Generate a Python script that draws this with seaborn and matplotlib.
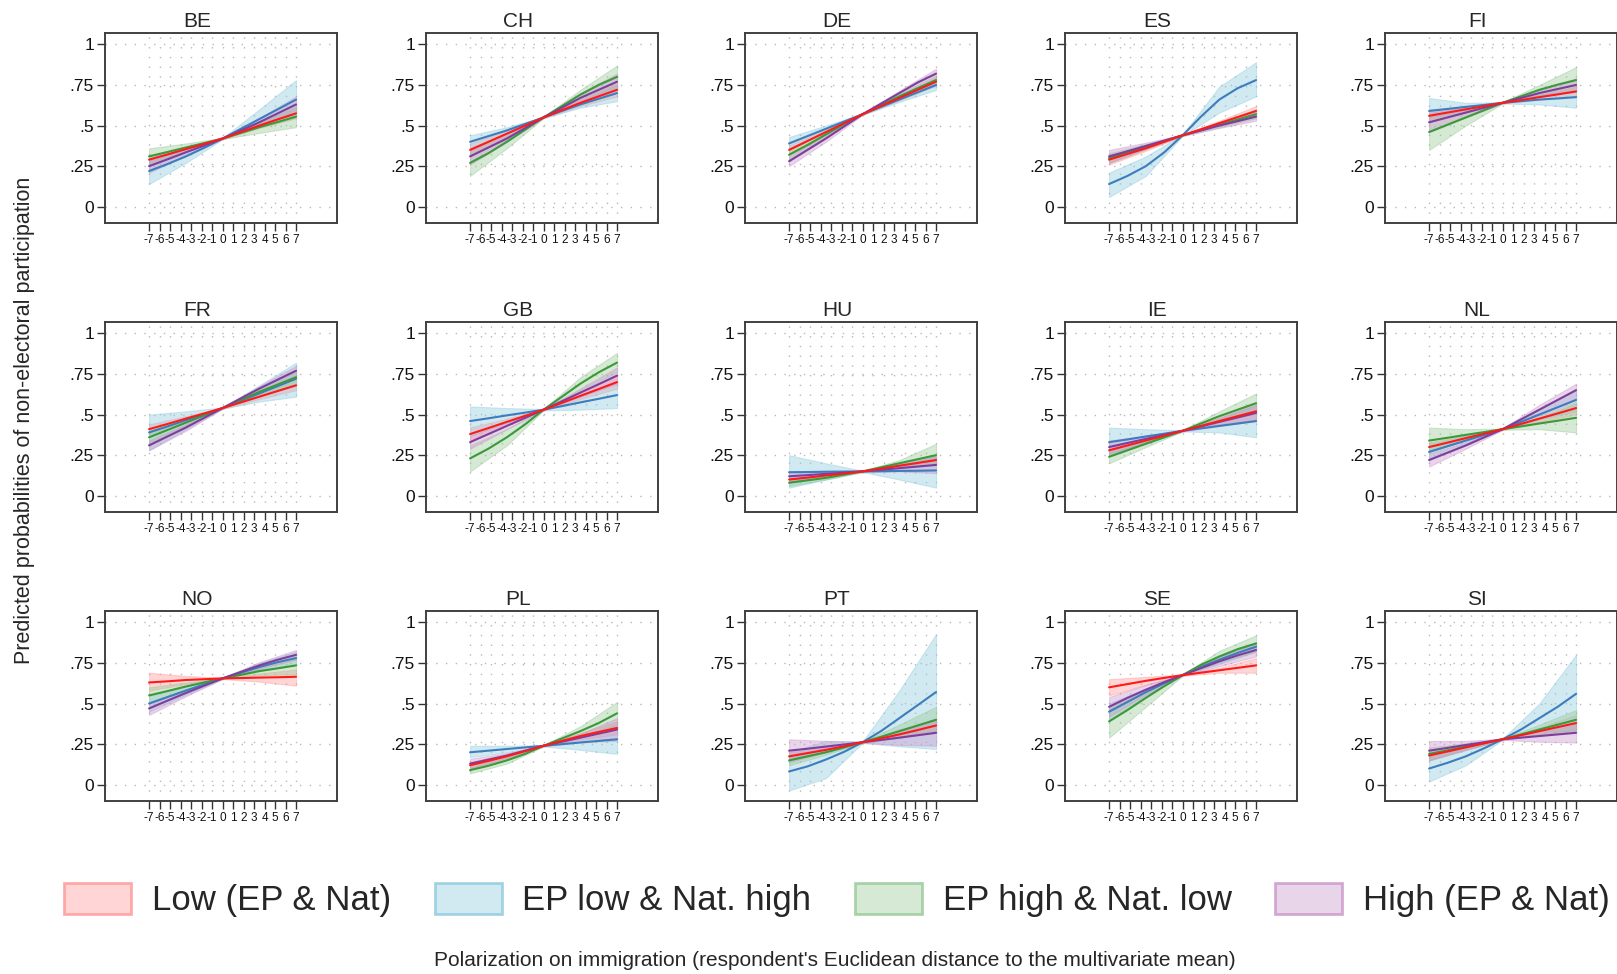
import matplotlib
matplotlib.use("Agg")
import matplotlib.pyplot as plt
import numpy as np
import pandas as pd
import seaborn as sns
from matplotlib.patches import Patch

# ---------------------------------------------------------------------------
# Predicted probabilities of non-electoral participation by polarization on
# immigration, for four polarization profiles, one panel per country.
# Lines are given at X_LINE, confidence bands at X_BAND.
# ---------------------------------------------------------------------------
COUNTRIES = ["BE", "CH", "DE", "ES", "FI",
             "FR", "GB", "HU", "IE", "NL",
             "NO", "PL", "PT", "SE", "SI"]
X_LINE = [-7, -5.25, -3.5, -1.75, 0, 1.75, 3.5, 5.25, 7]
X_BAND = [-7, -3.5, 0, 3.5, 7]
GROUPS = ["Low (EP & Nat)", "EP low & Nat. high",
          "EP high & Nat. low", "High (EP & Nat)"]

# Low (EP & Nat)
LOW_MEAN = [
    [.29, .322, .355, .387, .42, .46, .50, .538, .575],
    [.35, .40, .45, .50, .55, .595, .64, .68, .72],
    [.35, .405, .46, .515, .57, .62, .67, .72, .77],
    [.29, .325, .36, .40, .44, .477, .515, .552, .59],
    [.56, .58, .60, .62, .64, .657, .675, .692, .71],
    [.41, .442, .475, .507, .54, .575, .61, .645, .68],
    [.38, .417, .455, .492, .53, .572, .615, .657, .70],
    [.10, .112, .125, .137, .15, .167, .185, .202, .22],
    [.28, .31, .34, .37, .40, .43, .46, .49, .52],
    [.30, .327, .355, .382, .41, .442, .475, .507, .54],
    [.63, .637, .645, .65, .655, .657, .66, .662, .665],
    [.12, .147, .175, .207, .24, .27, .30, .325, .35],
    [.175, .195, .215, .237, .262, .285, .31, .337, .365],
    [.60, .62, .64, .658, .675, .69, .705, .72, .735],
    [.18, .205, .23, .255, .28, .305, .33, .355, .38],
]
LOW_LO = [
    [.27, .345, .416, .485, .545], [.31, .43, .546, .62, .68], [.32, .445, .566, .655, .745],
    [.26, .345, .436, .50, .56], [.52, .58, .636, .66, .68],
    [.38, .46, .536, .595, .65], [.34, .435, .526, .595, .66], [.08, .115, .146, .17, .19],
    [.25, .325, .396, .44, .47], [.27, .34, .406, .455, .50],
    [.58, .62, .651, .635, .61], [.10, .16, .236, .28, .31], [.15, .20, .258, .29, .32],
    [.55, .615, .671, .69, .69], [.15, .215, .276, .31, .33],
]
LOW_HI = [
    [.32, .37, .424, .515, .61], [.39, .47, .554, .66, .76], [.38, .475, .574, .685, .795],
    [.32, .375, .444, .53, .62], [.60, .62, .644, .69, .74],
    [.44, .49, .544, .625, .71], [.42, .475, .534, .635, .74], [.12, .135, .154, .20, .25],
    [.31, .355, .404, .48, .57], [.33, .37, .414, .495, .58],
    [.69, .67, .659, .685, .71], [.14, .19, .244, .32, .39], [.20, .23, .266, .33, .41],
    [.65, .665, .679, .72, .78], [.21, .245, .284, .35, .43],
]

# EP low & Nat. high
EPLOW_MEAN = [
    [.22, .263, .31, .363, .42, .48, .54, .60, .66],
    [.40, .435, .47, .51, .55, .59, .63, .665, .70],
    [.39, .435, .48, .525, .57, .615, .66, .705, .75],
    [.14, .19, .25, .335, .44, .555, .66, .73, .78],
    [.59, .602, .615, .627, .64, .65, .66, .667, .675],
    [.39, .427, .465, .502, .54, .585, .63, .675, .72],
    [.46, .477, .495, .512, .53, .552, .575, .597, .62],
    [.145, .146, .148, .149, .15, .151, .153, .154, .156],
    [.33, .347, .365, .382, .40, .415, .43, .445, .46],
    [.27, .305, .34, .375, .41, .455, .50, .545, .59],
    [.50, .54, .58, .618, .655, .69, .725, .755, .78],
    [.20, .21, .22, .23, .24, .25, .26, .27, .28],
    [.082, .113, .155, .203, .262, .33, .41, .49, .571],
    [.45, .51, .57, .625, .675, .725, .77, .812, .85],
    [.10, .135, .175, .225, .28, .34, .41, .48, .56],
]
EPLOW_LO = [
    [.14, .27, .416, .49, .55], [.36, .45, .546, .61, .65], [.35, .46, .566, .645, .72],
    [.06, .19, .436, .58, .68], [.55, .59, .636, .63, .61],
    [.28, .41, .536, .58, .61], [.37, .45, .526, .53, .54], [.05, .10, .146, .10, .05],
    [.25, .32, .396, .39, .36], [.22, .31, .406, .47, .52],
    [.45, .555, .651, .70, .74], [.17, .20, .236, .215, .19], [-.035, .04, .258, .237, .22],
    [.40, .545, .671, .745, .82], [.02, .12, .276, .33, .33],
]
EPLOW_HI = [
    [.30, .36, .424, .60, .78], [.44, .49, .554, .65, .75], [.43, .50, .574, .675, .78],
    [.21, .31, .444, .74, .89], [.67, .64, .644, .69, .72],
    [.50, .52, .544, .68, .82], [.55, .54, .534, .62, .70], [.25, .20, .154, .20, .25],
    [.42, .41, .404, .47, .56], [.32, .37, .414, .53, .66],
    [.55, .605, .659, .75, .82], [.24, .24, .244, .30, .37], [.20, .27, .266, .58, .928],
    [.50, .595, .679, .795, .88], [.18, .23, .284, .50, .80],
]

# EP high & Nat. low
EPHIGH_MEAN = [
    [.31, .337, .365, .392, .42, .455, .49, .522, .555],
    [.27, .33, .40, .475, .55, .62, .69, .75, .80],
    [.32, .38, .445, .51, .57, .625, .68, .73, .78],
    [.30, .335, .37, .405, .44, .472, .505, .537, .57],
    [.46, .505, .55, .595, .64, .68, .72, .752, .78],
    [.36, .405, .45, .495, .54, .59, .64, .685, .73],
    [.23, .29, .36, .44, .53, .61, .69, .76, .82],
    [.08, .095, .11, .13, .15, .175, .20, .225, .25],
    [.24, .28, .32, .36, .40, .445, .49, .53, .57],
    [.34, .357, .375, .392, .41, .427, .445, .462, .48],
    [.55, .577, .605, .63, .655, .677, .70, .717, .735],
    [.09, .117, .15, .19, .24, .285, .33, .38, .44],
    [.15, .175, .20, .23, .262, .295, .33, .365, .40],
    [.39, .46, .535, .607, .675, .738, .79, .835, .87],
    [.19, .212, .235, .257, .28, .31, .34, .37, .40],
]
EPHIGH_LO = [
    [.26, .34, .416, .455, .49], [.19, .36, .546, .66, .73], [.29, .43, .566, .665, .75],
    [.27, .355, .436, .49, .545], [.35, .50, .636, .69, .71],
    [.32, .43, .536, .62, .69], [.15, .31, .526, .65, .76], [.06, .10, .146, .18, .19],
    [.20, .30, .396, .46, .51], [.27, .34, .406, .41, .39],
    [.50, .58, .651, .675, .68], [.07, .13, .236, .30, .37], [.12, .185, .258, .29, .33],
    [.29, .48, .671, .755, .82], [.15, .215, .276, .31, .34],
]
EPHIGH_HI = [
    [.36, .39, .424, .52, .62], [.35, .44, .554, .72, .87], [.36, .46, .574, .695, .81],
    [.33, .385, .444, .52, .60], [.57, .60, .644, .75, .86],
    [.40, .47, .544, .66, .77], [.31, .41, .534, .73, .88], [.10, .12, .154, .22, .32],
    [.28, .34, .404, .52, .63], [.42, .41, .414, .48, .57],
    [.60, .63, .659, .725, .79], [.11, .17, .244, .36, .51], [.18, .215, .266, .37, .48],
    [.49, .59, .679, .825, .92], [.23, .255, .284, .37, .46],
]

# High (EP & Nat)
HIGH_MEAN = [
    [.25, .292, .335, .377, .42, .47, .52, .575, .63],
    [.31, .365, .42, .485, .55, .61, .67, .72, .77],
    [.28, .35, .42, .495, .57, .635, .70, .765, .82],
    [.31, .342, .375, .407, .44, .47, .50, .527, .555],
    [.52, .55, .58, .61, .64, .67, .70, .725, .75],
    [.31, .365, .42, .48, .54, .60, .66, .715, .77],
    [.33, .38, .43, .48, .53, .582, .635, .687, .74],
    [.12, .127, .135, .142, .15, .16, .17, .18, .19],
    [.30, .325, .35, .375, .40, .427, .455, .482, .51],
    [.22, .265, .31, .36, .41, .47, .53, .59, .65],
    [.47, .518, .565, .61, .655, .695, .735, .77, .80],
    [.13, .155, .18, .21, .24, .265, .29, .315, .34],
    [.21, .222, .235, .248, .262, .276, .29, .305, .32],
    [.48, .535, .585, .632, .675, .718, .76, .797, .83],
    [.21, .227, .245, .262, .28, .29, .30, .31, .32],
]
HIGH_LO = [
    [.21, .315, .416, .50, .58], [.26, .40, .546, .64, .72], [.25, .40, .566, .685, .79],
    [.27, .355, .436, .485, .53], [.46, .55, .636, .68, .71],
    [.28, .40, .536, .645, .73], [.29, .41, .526, .61, .69], [.09, .12, .146, .15, .14],
    [.26, .33, .396, .43, .46], [.18, .29, .406, .50, .60],
    [.43, .545, .651, .715, .77], [.10, .165, .236, .265, .27], [.14, .20, .258, .245, .24],
    [.42, .555, .671, .73, .79], [.15, .215, .276, .265, .26],
]
HIGH_HI = [
    [.29, .355, .424, .545, .68], [.36, .45, .554, .70, .82], [.31, .44, .574, .715, .85],
    [.35, .395, .444, .515, .585], [.58, .61, .644, .72, .79],
    [.34, .44, .544, .675, .80], [.37, .45, .534, .66, .79], [.15, .15, .154, .19, .24],
    [.34, .37, .404, .48, .56], [.26, .33, .414, .56, .69],
    [.51, .585, .659, .755, .83], [.16, .195, .244, .315, .41], [.28, .27, .266, .34, .40],
    [.54, .615, .679, .79, .87], [.27, .27, .284, .335, .38],
]

TABLES = {
    GROUPS[0]: (LOW_MEAN, LOW_LO, LOW_HI),
    GROUPS[1]: (EPLOW_MEAN, EPLOW_LO, EPLOW_HI),
    GROUPS[2]: (EPHIGH_MEAN, EPHIGH_LO, EPHIGH_HI),
    GROUPS[3]: (HIGH_MEAN, HIGH_LO, HIGH_HI),
}

line_rows, band_rows = [], []
for g, (mean_t, lo_t, hi_t) in TABLES.items():
    for ci, c in enumerate(COUNTRIES):
        for xi, x in enumerate(X_LINE):
            line_rows.append(dict(country=c, group=g, x=x, prob=mean_t[ci][xi]))
        for xi, x in enumerate(X_BAND):
            band_rows.append(dict(country=c, group=g, x=x,
                                  lo=lo_t[ci][xi], hi=hi_t[ci][xi]))
lines = pd.DataFrame(line_rows)
bands = pd.DataFrame(band_rows)

LINE_COLORS = {GROUPS[0]: "#ff1a1a", GROUPS[1]: "#3d7dbd",
               GROUPS[2]: "#3a9a3a", GROUPS[3]: "#7d3f9e"}
BAND_COLORS = {GROUPS[0]: "#ff9898", GROUPS[1]: "#8ecade",
               GROUPS[2]: "#96ca96", GROUPS[3]: "#ca96ca"}

sns.set_theme(style="white")
plt.rcParams["font.family"] = ["Liberation Sans", "DejaVu Sans"]

W, H = 1617, 974
fig = plt.figure(figsize=(W / 100, H / 100), dpi=100)

col_left = [105, 426, 745, 1065, 1385]
row_top = [33, 322, 611]
box_w, box_h = 232, 190

# red line is drawn last so it sits on top
line_order = [GROUPS[1], GROUPS[2], GROUPS[3], GROUPS[0]]

for i, c in enumerate(COUNTRIES):
    r, k = divmod(i, 5)
    left = col_left[k] / W
    bottom = 1 - (row_top[r] + box_h) / H
    ax = fig.add_axes([left, bottom, box_w / W, box_h / H])

    b = bands[bands.country == c]
    for g in GROUPS:
        s = b[b.group == g].sort_values("x")
        ax.fill_between(s.x, s.lo, s.hi, facecolor=BAND_COLORS[g], alpha=0.4,
                        edgecolor=BAND_COLORS[g], linewidth=0.8, zorder=2)
    sns.lineplot(data=lines[lines.country == c], x="x", y="prob", hue="group",
                 hue_order=line_order, palette=LINE_COLORS, legend=False, ax=ax,
                 linewidth=1.5, zorder=3)

    ax.set_xlim(-11.2, 10.9)
    ax.set_ylim(-0.1, 1.07)
    ax.set_xticks(range(-7, 8))
    ax.set_xticklabels([str(v) for v in range(-7, 8)], fontsize=8.5)
    ax.set_yticks([0, .25, .5, .75, 1])
    ax.set_yticklabels(["0", ".25", ".5", ".75", "1"], fontsize=12.5)
    ax.tick_params(axis="x", direction="out", length=6, width=1, color="#333333",
                   pad=2, labelcolor="#111111", bottom=True)
    ax.tick_params(axis="y", direction="out", length=6, width=1, color="#333333",
                   pad=2, labelcolor="#111111", left=True)
    ax.grid(True, color="#b8b8b8", linestyle=(0, (1, 6)), linewidth=1.0)
    for sp in ax.spines.values():
        sp.set_color("#404040")
        sp.set_linewidth(1.4)
    ax.set_xlabel("")
    ax.set_ylabel("")
    ax.set_title(c, fontsize=15, x=0.397, pad=4)

fig.text(25 / W, 1 - 420 / H, "Predicted probabilities of non-electoral participation",
         rotation=90, ha="center", va="center", fontsize=15.5)
fig.text(835 / W, 1 - 961 / H,
         "Polarization on immigration (respondent's Euclidean distance to the multivariate mean)",
         ha="center", va="center", fontsize=15)

handles = [Patch(facecolor=matplotlib.colors.to_rgba(BAND_COLORS[g], 0.4),
                 edgecolor=matplotlib.colors.to_rgba(BAND_COLORS[g], 0.8),
                 linewidth=2) for g in GROUPS]
fig.legend(handles, GROUPS, loc="center", bbox_to_anchor=(837 / W, 1 - 900 / H),
           ncol=4, frameon=False, fontsize=25, handlelength=1.93, handleheight=1.0,
           handletextpad=0.6, columnspacing=1.25, borderaxespad=0)

fig.savefig("out.png", dpi=100)
